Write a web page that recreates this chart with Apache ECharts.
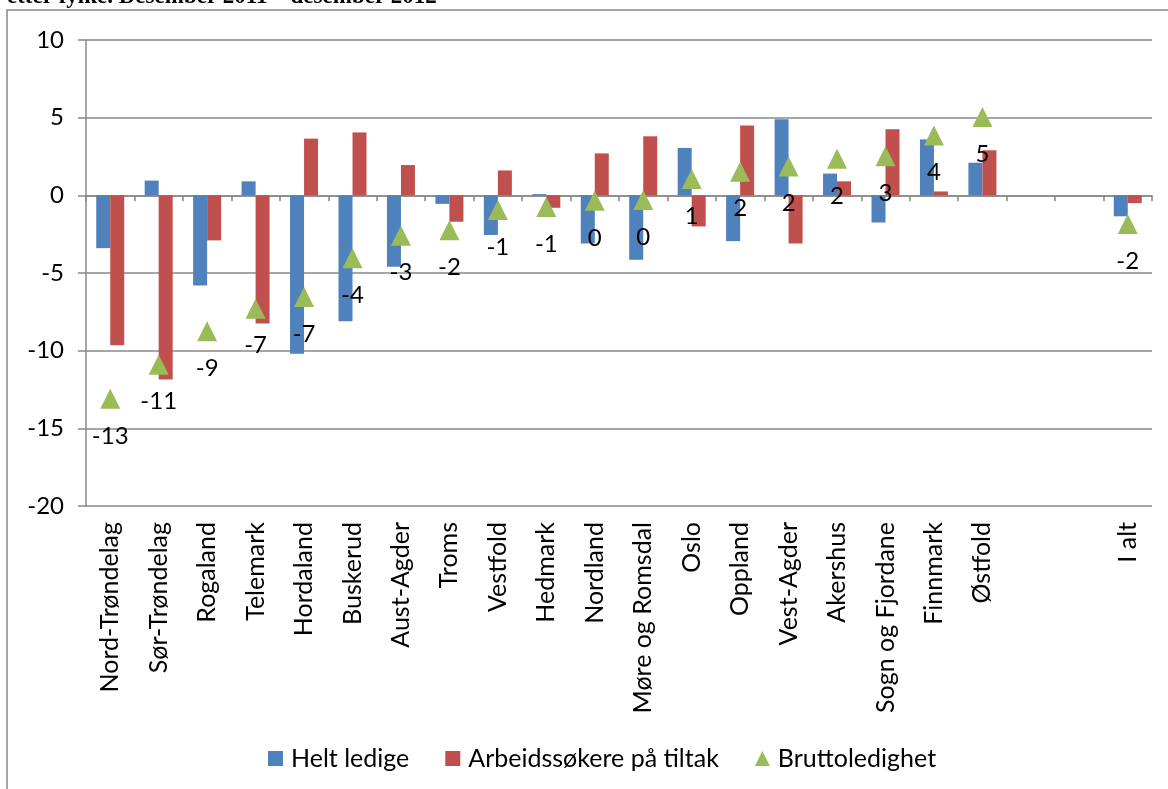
<!DOCTYPE html>
<html>
<head>
<meta charset="utf-8">
<script src="https://cdn.jsdelivr.net/npm/echarts@6/dist/echarts.min.js"></script>
<style>
  html, body { margin: 0; padding: 0; background: #fff; }
  #chart { width: 1168px; height: 789px; }
</style>
</head>
<body>
<div id="chart"></div>
<script>
// fylker, sortert etter bruttoledighet (to tomme plasser før "I alt")
const fylker = ["Nord-Trøndelag", "Sør-Trøndelag", "Rogaland", "Telemark", "Hordaland",
  "Buskerud", "Aust-Agder", "Troms", "Vestfold", "Hedmark", "Nordland", "Møre og Romsdal",
  "Oslo", "Oppland", "Vest-Agder", "Akershus", "Sogn og Fjordane", "Finnmark", "Østfold",
  "", "", "I alt"];
const heltLedige = [-3.4, 0.95, -5.8, 0.9, -10.2, -8.1, -4.6, -0.55, -2.55, 0.08, -3.1, -4.15,
  3.05, -2.95, 4.9, 1.4, -1.75, 3.6, 2.1, null, null, -1.35];
const paTiltak = [-9.65, -11.85, -2.9, -8.25, 3.65, 4.05, 1.95, -1.7, 1.6, -0.8, 2.7, 3.8,
  -2.0, 4.5, -3.1, 0.9, 4.25, 0.25, 2.9, null, null, -0.5];
const brutto = [-13.1, -10.9, -8.75, -7.3, -6.55, -4.05, -2.6, -2.25, -0.95, -0.75, -0.35, -0.3,
  1.05, 1.52, 1.85, 2.35, 2.52, 3.85, 5.05, null, null, -1.85];
const yTicks = { min: -20, max: 10, step: 5 };

const font = "Lato";
const grey = "#888888";

const chart = echarts.init(document.getElementById("chart"));
const option = {
  animation: false,
  title: {
    text: "etter fylke. Desember 2011 – desember 2012",
    left: 2,
    top: -19,
    textStyle: { fontFamily: "Liberation Serif", fontWeight: "bold", fontSize: 23, color: "#000" },
  },
  graphic: [
    {
      type: "rect",
      shape: { x: 7, y: 10, width: 1200, height: 820 },
      style: { fill: "none", stroke: grey, lineWidth: 1.5 },
      silent: true,
    },
  ],
  legend: {
    left: 263,
    top: 741,
    itemWidth: 15,
    itemHeight: 15,
    itemGap: 36,
    textStyle: { fontFamily: font, fontSize: 25, color: "#000", padding: [0, 0, 0, 3] },
    data: [
      { name: "Helt ledige", icon: "rect" },
      { name: "Arbeidssøkere på tiltak", icon: "rect" },
      { name: "Bruttoledighet", icon: "triangle" },
    ],
  },
  grid: { left: 86, right: 16, top: 40, bottom: 283 },
  xAxis: [
    {
      type: "category",
      data: fylker,
      position: "bottom",
      axisLine: { show: false, onZero: false },
      axisTick: { show: false },
      axisLabel: {
        interval: 0,
        rotate: 90,
        margin: 16,
        fontFamily: font,
        fontSize: 25,
        color: "#000",
      },
    },
    {
      type: "category",
      data: fylker,
      position: "bottom",
      axisLine: { show: true, onZero: true, lineStyle: { color: grey, width: 1.5 } },
      axisTick: { show: true, length: 6, interval: 0, lineStyle: { color: grey, width: 1.5 } },
      axisLabel: { show: false },
    },
  ],
  yAxis: {
    type: "value",
    min: yTicks.min,
    max: yTicks.max,
    interval: yTicks.step,
    axisLine: { show: true, lineStyle: { color: grey, width: 1.5 } },
    axisTick: { show: true, length: 8, lineStyle: { color: grey, width: 1.5 } },
    axisLabel: { margin: 22, fontFamily: font, fontSize: 24, color: "#000" },
    splitLine: { lineStyle: { color: grey, width: 1.5 } },
  },
  series: [
    {
      name: "Helt ledige",
      type: "bar",
      data: heltLedige,
      barWidth: 14,
      barGap: "0%",
      itemStyle: { color: "#4F81BD" },
    },
    {
      name: "Arbeidssøkere på tiltak",
      type: "bar",
      data: paTiltak,
      barWidth: 14,
      barGap: "0%",
      itemStyle: { color: "#C0504D" },
    },
    {
      name: "Bruttoledighet",
      type: "scatter",
      data: brutto,
      symbol: "triangle",
      symbolSize: [20, 20],
      z: 5,
      itemStyle: { color: "#9BBB59", opacity: 1 },
      label: {
        show: true,
        position: "bottom",
        distance: 15,
        fontFamily: font,
        fontSize: 24,
        color: "#000",
        formatter: (p) => String(Math.round(p.value)),
      },
    },
  ],
};
chart.setOption(option);
</script>
</body>
</html>
